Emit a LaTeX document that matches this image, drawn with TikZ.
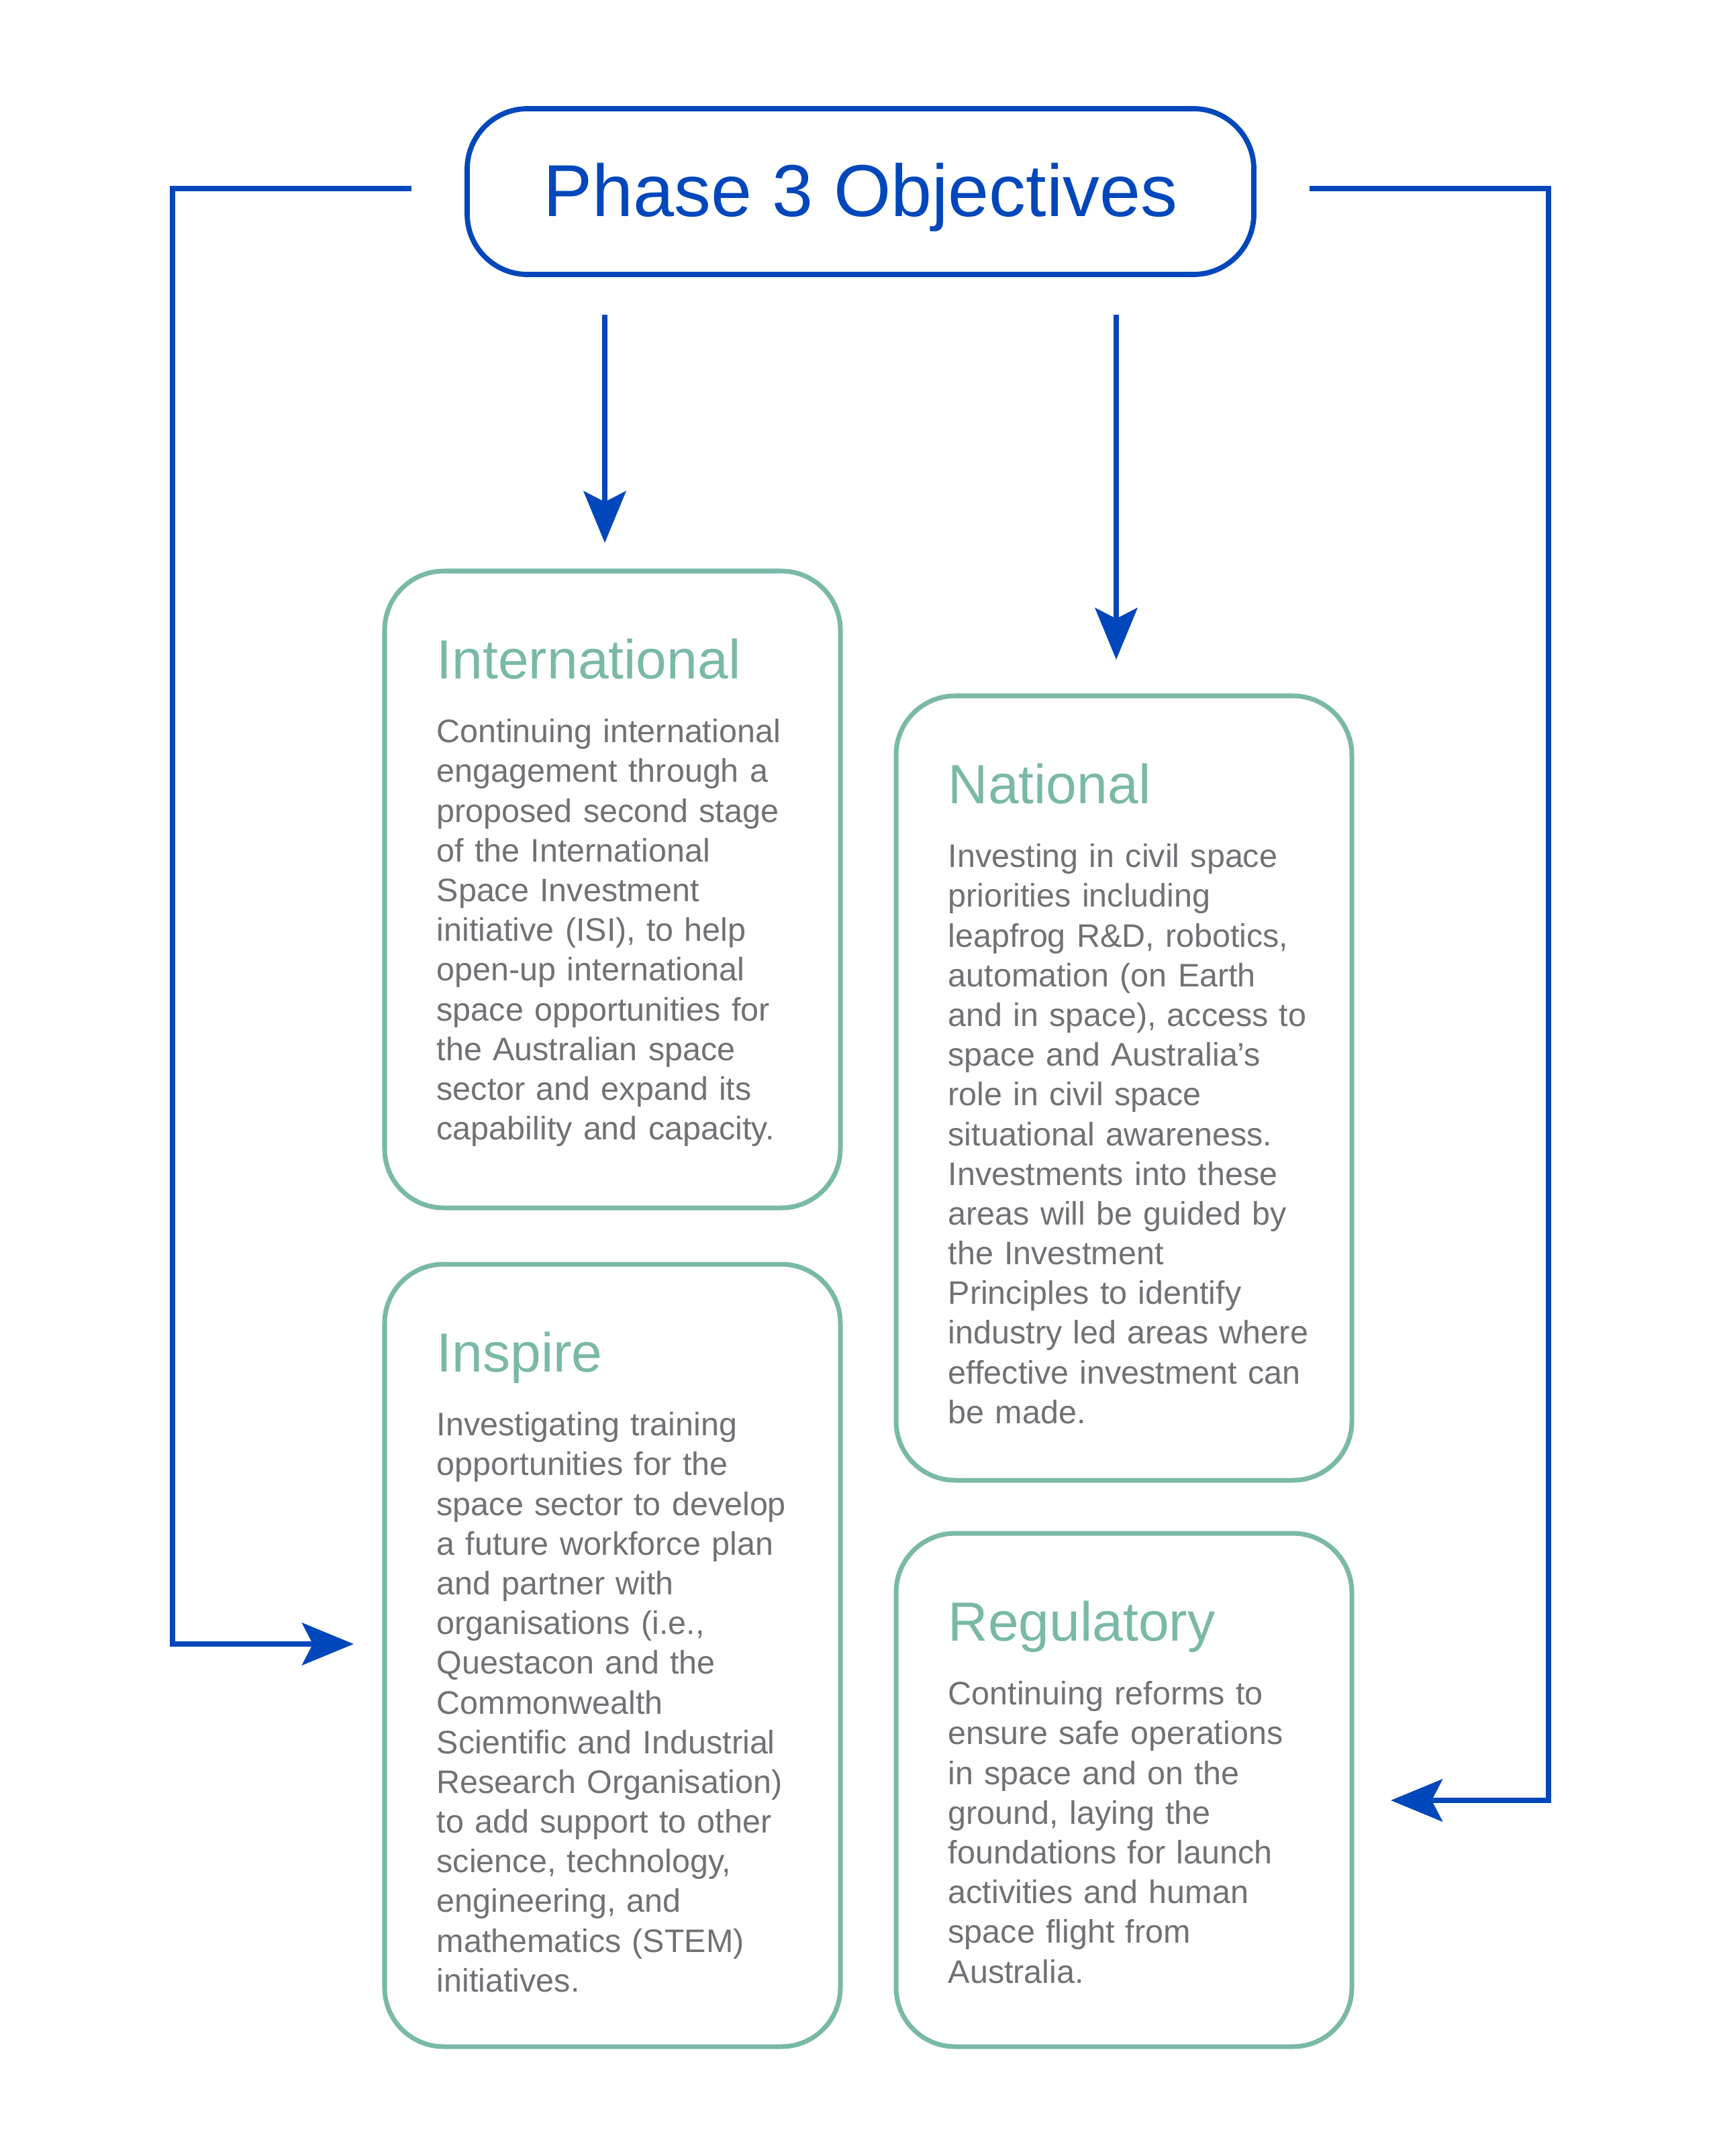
\documentclass[tikz,border=0pt]{standalone}
\usepackage{fontspec}
\setmainfont{Liberation Sans}
\usetikzlibrary{arrows.meta}
\definecolor{cobalt}{RGB}{0, 71, 187}
\definecolor{seafoam}{RGB}{122, 184, 167}
\definecolor{slate}{RGB}{112, 113, 117}

\begin{document}
\begin{tikzpicture}[
        phasebox/.style={draw=cobalt, line width=2.2pt, rounded corners=0.9cm, minimum width=11.72cm, minimum height=2.47cm, inner sep=0pt, outer sep=0pt,
                         text=cobalt, font=\fontsize{31.2pt}{36pt}\selectfont, text height=22pt, text depth=1.2pt},
        panel/.style={draw=seafoam, line width=2pt, rounded corners=0.88cm, minimum width=6.79cm, inner sep=0pt, outer sep=0pt},
        heading/.style={anchor=base west, inner sep=0pt, text=seafoam, font=\fontsize{23.4pt}{28pt}\selectfont},
        blurb/.style={anchor=base west, inner sep=0pt, text width=6.3cm, align=left, text=slate, font=\fontsize{13.8pt}{16.84pt}\selectfont},
        link/.style={draw=cobalt, line width=2.2pt, -{Stealth[length=7.7mm, width=6.3mm, inset=1.6mm]}}
    ]
    \useasboundingbox (0,0) rectangle (25.64,-32.13);

    \node[phasebox] (phase) at (12.82,-2.855) {Phase 3 Objectives};

    \node[panel, minimum height=9.49cm]  (intl) at ( 9.125,-13.255) {};
    \node[panel, minimum height=11.66cm] (insp) at ( 9.125,-24.670) {};
    \node[panel, minimum height=11.69cm] (natl) at (16.745,-16.215) {};
    \node[panel, minimum height=7.65cm]  (regl) at (16.745,-26.675) {};

    \node[heading] (intl-title) at ([shift={(0.77,-1.607)}]intl.north west) {International};
    \node[blurb]   (intl-text)  at ([shift={(0.77,-2.557)}]intl.north west) {Continuing international\\engagement through a\\proposed second stage\\of the International\\Space Investment\\initiative (ISI), to help\\open-up international\\space opportunities for\\the Australian space\\sector and expand its\\capability and capacity.};

    \node[heading] (insp-title) at ([shift={(0.77,-1.607)}]insp.north west) {Inspire};
    \node[blurb]   (insp-text)  at ([shift={(0.77,-2.557)}]insp.north west) {Investigating training\\opportunities for the\\space sector to develop\\a future workforce plan\\and partner with\\organisations (i.e.,\\Questacon and the\\Commonwealth\\Scientific and Industrial\\Research Organisation)\\to add support to other\\science, technology,\\engineering, and\\mathematics (STEM)\\initiatives.};

    \node[heading] (natl-title) at ([shift={(0.77,-1.607)}]natl.north west) {National};
    \node[blurb]   (natl-text)  at ([shift={(0.77,-2.557)}]natl.north west) {Investing in civil space\\priorities including\\leapfrog R\&D, robotics,\\automation (on Earth\\and in space), access to\\space and Australia’s\\role in civil space\\situational awareness.\\Investments into these\\areas will be guided by\\the Investment\\Principles to identify\\industry led areas where\\effective investment can\\be made.};

    \node[heading] (regl-title) at ([shift={(0.77,-1.607)}]regl.north west) {Regulatory};
    \node[blurb]   (regl-text)  at ([shift={(0.77,-2.557)}]regl.north west) {Continuing reforms to\\ensure safe operations\\in space and on the\\ground, laying the\\foundations for launch\\activities and human\\space flight from\\Australia.};

    \coordinate (railw) at ( 2.57,0);
    \coordinate (raile) at (23.07,0);
    \coordinate (inw) at ([yshift=1.7mm]insp.west);
    \coordinate (ine) at ([yshift=-1.55mm]regl.east);

    \draw[link, shorten <=6mm, shorten >=4.2mm] ([xshift=-1.15mm]intl.north |- phase.south) -- ([xshift=-1.15mm]intl.north);
    \draw[link, shorten <=6mm, shorten >=5.4mm] ([xshift=-1.15mm]natl.north |- phase.south) -- ([xshift=-1.15mm]natl.north);
    \draw[link, shorten <=8.3mm, shorten >=4.6mm] ([yshift=0.45mm]phase.west) -| (railw |- inw) -- (inw);
    \draw[link, shorten <=8.3mm, shorten >=5.8mm] ([yshift=0.45mm]phase.east) -| (raile |- ine) -- (ine);
\end{tikzpicture}
\end{document}
